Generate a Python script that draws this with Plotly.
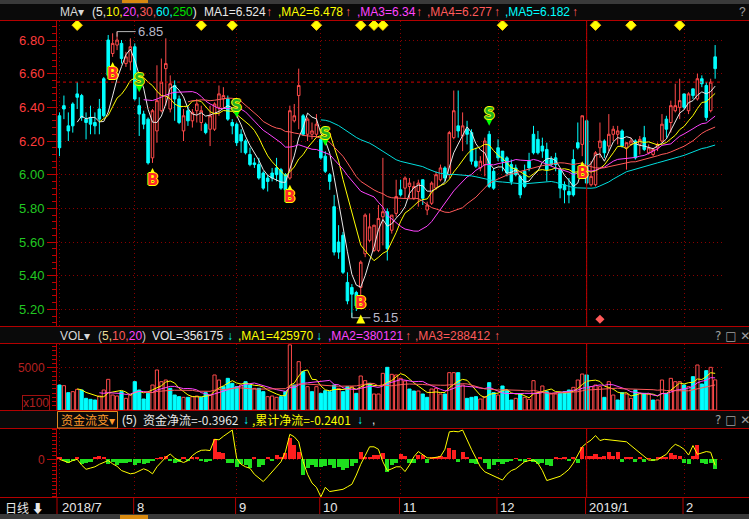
import numpy as np
import pandas as pd
import plotly.graph_objects as go

W, H = 749, 519
FONT = "Liberation Sans, Arial, Noto Sans CJK SC, sans-serif"
CJK = "Noto Sans CJK SC, Liberation Sans, sans-serif"

# ---------------- data ----------------
open_price = [
    6.35, 6.41, 6.29, 6.42, 6.48, 6.47, 6.33, 6.34, 6.31, 6.39,
    6.57, 6.80, 6.72, 6.77, 6.78, 6.66, 6.67, 6.76, 6.41, 6.36,
    6.33, 6.10, 6.26, 6.38, 6.63, 6.39, 6.53, 6.45, 6.26, 6.38,
    6.32, 6.38, 6.31, 6.30, 6.27, 6.27, 6.40, 6.45, 6.45, 6.31,
    6.30, 6.24, 6.20, 6.12, 6.07, 6.06, 6.01, 5.98, 6.01, 6.04,
    6.03, 6.00, 5.98, 6.32, 6.47, 6.35, 6.24, 6.24, 6.24, 6.21,
    6.11, 6.00, 5.81, 5.60, 5.64, 5.36, 5.33, 5.30, 5.33, 5.53,
    5.61, 5.55, 5.55, 5.75, 5.78, 5.67, 5.77, 5.91, 5.92, 5.93,
    5.86, 5.90, 5.97, 5.79, 5.83, 5.92, 5.97, 6.04, 6.00, 6.22,
    6.29, 6.23, 6.27, 6.25, 6.08, 6.04, 6.06, 6.24, 6.02, 6.16,
    6.14, 6.10, 6.06, 6.04, 5.99, 6.02, 6.08, 6.24, 6.21, 6.17,
    6.15, 6.09, 6.10, 6.03, 5.94, 5.90, 6.09, 6.19, 6.18, 6.32,
    5.94, 5.94, 6.16, 6.20, 6.17, 6.24, 6.24, 6.26, 6.16, 6.18,
    6.20, 6.18, 6.22, 6.13, 6.12, 6.16, 6.20, 6.33, 6.31, 6.38,
    6.40, 6.48, 6.38, 6.51, 6.45, 6.57, 6.53, 6.38, 6.70]
high_price = [
    6.37, 6.47, 6.37, 6.43, 6.55, 6.48, 6.37, 6.41, 6.37, 6.45,
    6.58, 6.83, 6.84, 6.85, 6.80, 6.73, 6.81, 6.78, 6.46, 6.38,
    6.34, 6.39, 6.65, 6.69, 6.81, 6.59, 6.56, 6.47, 6.39, 6.41,
    6.39, 6.45, 6.41, 6.31, 6.41, 6.43, 6.53, 6.52, 6.47, 6.33,
    6.31, 6.27, 6.21, 6.16, 6.10, 6.10, 6.02, 6.00, 6.04, 6.10,
    6.04, 6.01, 6.41, 6.42, 6.63, 6.36, 6.34, 6.31, 6.36, 6.22,
    6.14, 6.01, 5.88, 5.70, 5.66, 5.42, 5.35, 5.31, 5.49, 5.77,
    5.77, 5.70, 5.82, 6.10, 5.80, 5.76, 5.97, 5.97, 5.99, 5.98,
    5.96, 5.97, 5.97, 5.84, 5.96, 6.02, 6.06, 6.05, 6.26, 6.50,
    6.50, 6.37, 6.32, 6.27, 6.16, 6.11, 6.22, 6.26, 6.04, 6.21,
    6.14, 6.11, 6.09, 6.06, 6.00, 6.06, 6.13, 6.29, 6.26, 6.22,
    6.19, 6.11, 6.13, 6.04, 5.96, 5.98, 6.15, 6.31, 6.35, 6.33,
    6.08, 6.14, 6.31, 6.21, 6.36, 6.29, 6.29, 6.27, 6.19, 6.22,
    6.21, 6.23, 6.29, 6.18, 6.16, 6.19, 6.36, 6.35, 6.44, 6.54,
    6.57, 6.48, 6.49, 6.51, 6.60, 6.59, 6.55, 6.57, 6.77]
low_price = [
    6.11, 6.33, 6.20, 6.25, 6.39, 6.32, 6.21, 6.24, 6.24, 6.24,
    6.34, 6.58, 6.70, 6.74, 6.66, 6.64, 6.62, 6.44, 6.23, 6.27,
    6.06, 6.07, 6.19, 6.37, 6.41, 6.37, 6.32, 6.30, 6.20, 6.29,
    6.28, 6.31, 6.26, 6.24, 6.17, 6.26, 6.35, 6.39, 6.32, 6.24,
    6.17, 6.13, 6.12, 6.05, 6.04, 5.97, 5.91, 5.90, 5.96, 5.96,
    5.91, 5.90, 5.97, 6.31, 6.27, 6.23, 6.20, 6.21, 6.22, 6.09,
    6.01, 5.91, 5.52, 5.50, 5.41, 5.23, 5.15, 5.19, 5.20, 5.51,
    5.60, 5.54, 5.54, 5.58, 5.49, 5.65, 5.75, 5.87, 5.86, 5.86,
    5.85, 5.81, 5.82, 5.76, 5.82, 5.91, 5.96, 5.96, 5.98, 6.21,
    6.22, 6.14, 6.18, 6.06, 6.04, 6.02, 5.99, 5.92, 5.91, 6.08,
    6.02, 5.99, 5.94, 5.99, 5.86, 5.92, 6.02, 6.12, 6.12, 6.10,
    5.96, 6.05, 6.02, 5.86, 5.83, 5.83, 5.87, 6.15, 6.11, 5.94,
    5.93, 5.93, 6.10, 6.10, 6.14, 6.20, 6.18, 6.16, 6.03, 6.17,
    6.09, 6.12, 6.14, 6.12, 6.11, 6.14, 6.19, 6.22, 6.25, 6.37,
    6.33, 6.39, 6.36, 6.45, 6.44, 6.52, 6.32, 6.37, 6.57]
close_price = [
    6.16, 6.39, 6.26, 6.29, 6.46, 6.34, 6.31, 6.30, 6.29, 6.33,
    6.35, 6.59, 6.78, 6.80, 6.69, 6.70, 6.76, 6.45, 6.36, 6.30,
    6.07, 6.38, 6.44, 6.55, 6.66, 6.54, 6.45, 6.31, 6.35, 6.32,
    6.37, 6.42, 6.38, 6.25, 6.35, 6.42, 6.48, 6.47, 6.33, 6.29,
    6.19, 6.20, 6.13, 6.06, 6.06, 5.98, 5.92, 5.96, 5.98, 6.00,
    5.92, 5.91, 6.38, 6.35, 6.53, 6.24, 6.33, 6.26, 6.30, 6.10,
    6.02, 5.96, 5.54, 5.54, 5.42, 5.25, 5.29, 5.22, 5.48, 5.76,
    5.69, 5.70, 5.74, 5.78, 5.56, 5.76, 5.87, 5.88, 5.98, 5.95,
    5.93, 5.95, 5.86, 5.82, 5.95, 6.00, 6.04, 5.98, 6.25, 6.38,
    6.26, 6.29, 6.24, 6.08, 6.05, 6.08, 6.20, 5.93, 5.92, 6.10,
    6.08, 6.01, 5.96, 6.00, 5.88, 5.93, 6.04, 6.13, 6.13, 6.14,
    6.03, 6.06, 6.06, 5.92, 5.91, 5.88, 5.88, 6.16, 6.35, 5.95,
    5.99, 6.13, 6.20, 6.13, 6.24, 6.27, 6.26, 6.17, 6.19, 6.20,
    6.10, 6.21, 6.15, 6.16, 6.15, 6.18, 6.30, 6.27, 6.41, 6.41,
    6.44, 6.40, 6.48, 6.47, 6.57, 6.54, 6.34, 6.55, 6.63]
volume_x100 = [
    2955, 2876, 2049, 2167, 2443, 2364, 1379, 1260, 1182, 1655,
    2364, 3625, 1773, 1655, 2167, 1379, 1773, 3349, 2364, 1300,
    1970, 2955, 4728, 3349, 3546, 2561, 1773, 1576, 1497, 1497,
    1576, 1655, 1497, 2049, 1773, 4137, 3546, 2758, 3743, 3152,
    2758, 2955, 3349, 2955, 2561, 2561, 2167, 1576, 1655, 1497,
    1576, 2167, 7700, 2955, 5713, 4531, 2758, 2167, 2758, 1970,
    2285, 2167, 2955, 2561, 2167, 2758, 2758, 1970, 4019, 3467,
    3152, 1891, 1891, 4334, 5043, 4216, 4137, 3743, 3428, 2482,
    2246, 2246, 1891, 1497, 2482, 2561, 1891, 1891, 4413, 4413,
    4413, 2955, 1379, 1497, 1576, 1300, 1576, 3231, 2049, 1773,
    2837, 2285, 1182, 1379, 1891, 1497, 1260, 3467, 2049, 2837,
    2167, 1891, 1891, 1970, 2167, 2364, 2679, 3546, 4255, 4137,
    2758, 2955, 2758, 1497, 3349, 1773, 1182, 2049, 1891, 1379,
    2364, 1970, 1970, 1891, 1182, 1182, 3546, 1970, 3743, 3349,
    3349, 2955, 2758, 3940, 5319, 3073, 4649, 5043, 3562]
net_flow = [
    0.08, -0.07, -0.13, -0.05, 0.08, -0.19, -0.16, -0.09, 0.08, 0.13,
    0.11, -0.19, -0.09, -0.23, -0.13, -0.16, -0.09, -0.23, -0.13, -0.20,
    -0.13, -0.05, 0.04, 0.08, 0.13, -0.07, -0.16, -0.09, 0.08, -0.07,
    0.11, 0.11, -0.05, -0.09, -0.08, 0.80, 0.31, 0.24, -0.13, -0.16,
    -0.29, -0.19, -0.23, -0.36, 0.08, -0.29, -0.23, 0.08, -0.07, 0.17,
    0.11, 0.24, 0.84, 0.57, 0.31, -0.63, -0.36, -0.23, -0.29, -0.29,
    -0.27, -0.23, -0.36, -0.29, -0.43, -0.36, -0.27, -0.16, 0.31, 0.11,
    0.08, 0.17, 0.17, 0.27, -0.49, -0.23, -0.16, 0.21, 0.13, -0.16,
    -0.13, 0.17, 0.17, -0.16, 0.11, 0.11, 0.13, 0.08, 0.44, 0.37,
    -0.09, 0.31, 0.08, -0.13, -0.19, 0.08, -0.16, -0.40, -0.23, -0.09,
    -0.19, -0.09, -0.05, 0.04, -0.05, -0.09, 0.04, -0.09, -0.19, -0.16,
    -0.23, -0.27, 0.08, 0.04, 0.08, -0.07, 0.08, -0.13, 0.51, 0.13,
    0.13, 0.21, 0.08, 0.13, 0.31, 0.13, 0.31, -0.09, 0.08, 0.08,
    -0.09, 0.08, -0.09, 0.04, -0.05, 0.08, 0.08, 0.08, 0.24, 0.17,
    0.13, -0.16, -0.19, 0.13, 0.57, -0.16, -0.19, -0.13, -0.40]
cum_flow = [
    0.00, -0.06, -0.13, -0.05, 0.00, -0.23, -0.40, -0.35, -0.30, -0.20,
    -0.12, -0.05, -0.18, -0.28, -0.45, -0.52, -0.58, -0.55, -0.48, -0.38,
    -0.45, -0.58, -0.30, -0.10, 0.08, 0.21, 0.05, -0.05, -0.13, -0.05,
    0.15, 0.28, 0.36, 0.37, 0.35, 0.80, 0.78, 0.92, 1.05, 1.17,
    0.04, -0.20, -0.30, -0.36, -0.60, -0.75, -0.89, -0.70, -0.50, -0.29,
    -0.10, 0.30, 1.00, 0.90, 0.70, -0.09, -0.60, -0.95, -1.12, -1.50,
    -1.12, -1.29, -1.25, -1.22, -1.20, -1.10, -1.00, -0.63, -0.20, 0.15,
    0.50, 0.50, 0.40, -0.10, -0.45, -0.38, -0.30, -0.30, -0.49, -0.23,
    0.10, 0.31, 0.18, 0.06, 0.05, 0.08, 0.11, 0.40, 1.10, 1.12,
    1.10, 1.17, 0.75, 0.40, 0.05, -0.30, -0.50, -0.59, -0.68, -0.75,
    -0.83, -0.60, -0.45, -0.38, -0.22, -0.10, -0.05, -0.03, -0.16, -0.45,
    -0.85, -0.80, -0.72, -0.68, -0.55, -0.40, -0.15, 0.15, 0.50, 0.65,
    0.77, 0.95, 0.75, 0.80, 0.78, 0.77, 0.75, 0.73, 0.70, 0.55,
    0.40, 0.24, 0.10, -0.03, -0.03, -0.02, 0.10, 0.20, 0.44, 0.60,
    0.52, 0.40, 0.17, 0.55, 0.20, 0.25, 0.31, 0.28, -0.24]

month_labels = ["2018/7", "8", "9", "10", "11", "12", "2019/1", "2"]
month_start = [0, 17, 40, 59, 77, 99, 119, 141]
year_start = 119
diamond_bars = [4, 32, 39, 58, 68, 71, 73, 100, 121, 129, 140]
low_diamond_bars = [122]
buy_bars = [12, 21, 52, 68, 118]
sell_bars = [18, 40, 60, 97]
ma_periods = [5, 10, 20, 30, 60]
vol_ma_periods = [5, 10, 20]
price_ticks = [6.80, 6.60, 6.40, 6.20, 6.00, 5.80, 5.60, 5.40, 5.20]

# ---------------- helpers ----------------
n = len(close_price)
idx = list(range(n))
PX = lambda x: x / W
PY = lambda y: 1 - y / H

C_RED = "#ff4a4a"
C_CYAN = "#00ffff"
C_BORDER = "#b40000"
C_GRID = "#8a0000"
C_WHITE = "#e8e8e8"
C_YEL = "#ffff00"
C_MAG = "#ff44ff"
C_SAL = "#ff5a5a"
C_GRN = "#00e000"

XR = [-0.56, 149.55]
YR = [5.101, 6.913]
VR = [0, 7800]
FR = [-1.508, 1.212]

dom_x = [57 / W, 722 / W]
dom_p = [PY(326), PY(21)]
dom_v = [PY(410), PY(344)]
dom_f = [PY(497), PY(429)]

df = pd.DataFrame({"o": open_price, "h": high_price, "l": low_price, "c": close_price, "v": volume_x100})
# volume bars coloured by close versus previous close
vol_up = (df["c"] >= df["c"].shift(1).fillna(df["o"])).tolist()

fig = go.Figure()

# MA lines (price)
ma_colors = [C_WHITE, C_YEL, C_MAG, C_SAL, "#00dede"]
for p, col in zip(ma_periods, ma_colors):
    fig.add_trace(go.Scatter(x=idx, y=df["c"].rolling(p, min_periods=p).mean(), mode="lines",
                             line=dict(color=col, width=1), xaxis="x", yaxis="y", hoverinfo="skip"))

# candles
fig.add_trace(go.Candlestick(
    x=idx, open=open_price, high=high_price, low=low_price, close=close_price,
    increasing=dict(line=dict(color=C_RED, width=1), fillcolor="#000000"),
    decreasing=dict(line=dict(color=C_CYAN, width=1), fillcolor=C_CYAN),
    whiskerwidth=0, xaxis="x", yaxis="y", hoverinfo="skip"))

# previous close dashed line
prev_close = close_price[-2]
fig.add_trace(go.Scatter(x=[XR[0], XR[1]], y=[prev_close, prev_close], mode="lines",
                         line=dict(color="#d00000", width=1, dash="3px,3px"),
                         xaxis="x", yaxis="y", hoverinfo="skip"))

# high / low labels
hi_i = int(np.argmax(high_price)); hi = high_price[hi_i]
lo_i = int(np.argmin(low_price)); lo = low_price[lo_i]
fig.add_trace(go.Scatter(x=[hi_i, hi_i, hi_i + 4.2], y=[hi - 0.03, hi, hi], mode="lines",
                         line=dict(color="#b4b4b4", width=1), xaxis="x", yaxis="y", hoverinfo="skip"))
fig.add_trace(go.Scatter(x=[lo_i, lo_i, lo_i + 4.2], y=[lo + 0.03, lo, lo], mode="lines",
                         line=dict(color="#b4b4b4", width=1), xaxis="x", yaxis="y", hoverinfo="skip"))

# top diamonds
fig.add_trace(go.Scatter(x=diamond_bars, y=[YR[1] - 0.025] * len(diamond_bars), mode="markers",
                         marker=dict(symbol="diamond", size=8, color="#ffff00", line=dict(color="#ffc800", width=1)),
                         xaxis="x", yaxis="y", hoverinfo="skip"))
fig.add_trace(go.Scatter(x=low_diamond_bars, y=[YR[0] + 0.04] * len(low_diamond_bars), mode="markers",
                         marker=dict(symbol="diamond", size=7, color="#ff5a5a"),
                         xaxis="x", yaxis="y", hoverinfo="skip"))

annotations = []
shadow_y = "1px 0 0 #ffff00, -1px 0 0 #ffff00, 0 1px 0 #ffff00, 0 -1px 0 #ffff00"

# buy signals
bx, by = [], []
for b in buy_bars:
    ay = low_price[b] - 0.03
    ty = ay - 0.07
    if ty < YR[0] + 0.035:
        ay = max(ay, YR[0] + 0.06)
        ty = ay + 0.065
    bx.append(b); by.append(ay)
    annotations.append(dict(x=b, y=ty, xref="x", yref="y", text="<b>B</b>", showarrow=False,
                            font=dict(family="DejaVu Sans", size=15, color="#ff2a2a", shadow=shadow_y)))
fig.add_trace(go.Scatter(x=bx, y=by, mode="markers", marker=dict(symbol="arrow-up", size=9, color="#ffff00"),
                         xaxis="x", yaxis="y", hoverinfo="skip"))
# sell signals
sx, sy = [], []
for s in sell_bars:
    ay = high_price[s] + 0.03
    sx.append(s); sy.append(ay)
    annotations.append(dict(x=s, y=ay + 0.07, xref="x", yref="y", text="<b>S</b>", showarrow=False,
                            font=dict(family="DejaVu Sans", size=15, color="#22b022", shadow=shadow_y)))
fig.add_trace(go.Scatter(x=sx, y=sy, mode="markers", marker=dict(symbol="arrow-down", size=9, color="#00ff00"),
                         xaxis="x", yaxis="y", hoverinfo="skip"))

annotations.append(dict(x=hi_i + 4.3, y=hi, xref="x", yref="y", text=f"{hi:.2f}", showarrow=False,
                        xanchor="left", yanchor="middle", font=dict(family=FONT, size=13, color="#b8b8c8")))
annotations.append(dict(x=lo_i + 4.3, y=lo, xref="x", yref="y", text=f"{lo:.2f}", showarrow=False,
                        xanchor="left", yanchor="middle", font=dict(family=FONT, size=13, color="#b8b8c8")))

# volume
vcol = [("#000000" if u else C_CYAN) for u in vol_up]
vline = [(C_RED if u else C_CYAN) for u in vol_up]
fig.add_trace(go.Bar(x=idx, y=volume_x100, width=0.72, marker=dict(color=vcol, line=dict(color=vline, width=1)),
                     xaxis="x2", yaxis="y2", hoverinfo="skip"))
for p, col in zip(vol_ma_periods, [C_YEL, C_MAG, C_SAL]):
    fig.add_trace(go.Scatter(x=idx, y=df["v"].rolling(p, min_periods=p).mean(), mode="lines",
                             line=dict(color=col, width=1), xaxis="x2", yaxis="y2", hoverinfo="skip"))

# money flow
fcol = [("#ff1e1e" if v >= 0 else "#1ee01e") for v in net_flow]
fig.add_trace(go.Bar(x=idx, y=net_flow, width=0.92, marker=dict(color=fcol, line=dict(width=0)),
                     xaxis="x3", yaxis="y3", hoverinfo="skip"))
fig.add_trace(go.Scatter(x=idx, y=cum_flow, mode="lines", line=dict(color="#ffff00", width=1),
                         xaxis="x3", yaxis="y3", hoverinfo="skip"))

# ---------------- frame ----------------
shapes = []
def rect(x0, y0, x1, y1, color, layer="below"):
    shapes.append(dict(type="rect", xref="paper", yref="paper", x0=PX(x0), x1=PX(x1), y0=PY(y1), y1=PY(y0),
                       fillcolor=color, line=dict(width=0), layer=layer))
def hline(y, color=C_BORDER, x0=0, x1=W):
    shapes.append(dict(type="line", xref="paper", yref="paper", x0=PX(x0), x1=PX(x1), y0=PY(y), y1=PY(y),
                       line=dict(color=color, width=1)))

rect(0, 4, W, 20.5, "#0a0a0a")
rect(0, 327, W, 343.5, "#0a0a0a")
rect(0, 411, W, 428.5, "#0a0a0a")
rect(0, 0, W, 4, "#3a3a3a", "above")
rect(122, 0, 148, 3, "#d88a10", "above")
rect(0, 514, W, H, "#3a3a3a", "above")
rect(120, 515, 148, H, "#d88a10", "above")
for y in [20.5, 326.5, 343.5, 410.5, 428.5, 497.5]:
    hline(y)

# year separator (solid) through all panels
for d in [dom_p, dom_v, dom_f]:
    shapes.append(dict(type="line", xref="x", yref="paper", x0=year_start, x1=year_start, y0=d[0], y1=d[1],
                       line=dict(color="#c00000", width=1)))
# axis row separators + labels
shapes.append(dict(type="line", xref="paper", yref="paper", x0=PX(57), x1=PX(57), y0=PY(514), y1=PY(497.5),
                   line=dict(color=C_BORDER, width=1)))
for m, lab in zip(month_start, month_labels):
    if m > 0:
        shapes.append(dict(type="line", xref="x", yref="paper", x0=m - 0.25, x1=m - 0.25, y0=PY(514), y1=PY(497.5),
                           line=dict(color=C_BORDER, width=1)))
    annotations.append(dict(x=m + 0.05, y=PY(507), xref="x", yref="paper", text=lab, showarrow=False,
                            xanchor="left", yanchor="middle", font=dict(family=FONT, size=13, color=C_WHITE)))
annotations.append(dict(x=PX(3), y=PY(507), xref="paper", yref="paper", text="日线 <b>⬇</b>", showarrow=False,
                        xanchor="left", yanchor="middle", font=dict(family=CJK, size=12, color=C_WHITE)))

# header texts
def seg(x, y, s, color, size=12, fam=FONT):
    annotations.append(dict(x=PX(x - 2), y=PY(y), xref="paper", yref="paper", text=s, showarrow=False,
                            xanchor="left", yanchor="middle", font=dict(family=fam, size=size, color=color)))
def sp(s, c):
    return f"<span style='color:{c}'>{s}</span>"

y1 = 12.5
seg(60, y1, "MA▾", "#d8d8d8")
seg(92, y1, "(5," + sp("10,", C_YEL) + sp("20,", C_MAG) + sp("30,", C_SAL) + sp("60,", C_CYAN) + sp("250", C_GRN) + ")", C_WHITE)
seg(204, y1, "MA1=6.524", C_WHITE); seg(266, y1, "↑", C_SAL)
seg(278, y1, ",MA2=6.478", C_YEL); seg(345, y1, "↑", C_SAL)
seg(357, y1, ",MA3=6.34", C_MAG); seg(416, y1, "↑", C_SAL)
seg(427, y1, ",MA4=6.277", C_SAL); seg(494, y1, "↑", C_SAL)
seg(505, y1, ",MA5=6.182", C_CYAN); seg(572, y1, "↑", C_SAL)
seg(739, y1, "?", "#a0a0a0")

y2 = 335.5
seg(60, y2, "VOL▾", "#d8d8d8")
seg(98, y2, "(" + sp("5,", "#e8dc96") + sp("10,", C_SAL) + sp("20", C_MAG) + ")", "#c8c8c8")
seg(152, y2, "VOL=356175", C_WHITE); seg(227, y2, "↓", C_CYAN)
seg(238, y2, ",MA1=425970", C_YEL); seg(316, y2, "↓", C_CYAN)
seg(328, y2, ",MA2=380121", C_MAG); seg(405, y2, "↑", C_SAL)
seg(415, y2, ",MA3=288412", C_SAL); seg(494, y2, "↑", C_SAL)
seg(715, y2, "? □ ✕", "#a0a0a0", 12, "DejaVu Sans")

y3 = 419.5
shapes.append(dict(type="rect", xref="paper", yref="paper", x0=PX(57.5), x1=PX(117.5), y0=PY(428), y1=PY(411.5),
                   line=dict(color="#e08a20", width=1), fillcolor="rgba(0,0,0,0)"))
seg(61, y3, "资金流变▾", "#ff9a2a", 12, CJK)
seg(122, y3, "(5)", C_WHITE)
seg(143, y3, "资金净流=-0.3962", C_WHITE, 12, CJK); seg(243, y3, "↓", C_CYAN)
seg(252, y3, ",累计净流=-0.2401", C_YEL, 12, CJK); seg(357, y3, "↓", C_CYAN)
seg(372, y3, ",", C_WHITE)
seg(715, y3, "? □ ✕", "#a0a0a0", 12, "DejaVu Sans")

# left axis unit box
annotations.append(dict(x=PX(35.5), y=PY(403), xref="paper", yref="paper", text="x100", showarrow=False,
                        xanchor="center", yanchor="middle", bordercolor="#a01010", borderwidth=1, borderpad=0,
                        font=dict(family=FONT, size=12, color="#b02020")))

# ---------------- axes ----------------
def xax(anchor):
    return dict(domain=dom_x, range=XR, anchor=anchor, showticklabels=False, ticks="",
                tickvals=month_start, showgrid=True, gridcolor=C_GRID, griddash="1px,3px", gridwidth=1,
                zeroline=False, showline=False, fixedrange=True, rangeslider=dict(visible=False))

tick_txt = [sp(f"{t:.2f}", "#ff3c3c" if t >= 6.2 else "#22c822") for t in price_ticks]

layout = dict(
    width=W, height=H, margin=dict(l=0, r=0, t=0, b=0),
    paper_bgcolor="#000000", plot_bgcolor="#000000", showlegend=False,
    boxgap=0.18, barmode="overlay", bargap=0,
    xaxis=xax("y"), xaxis2={**xax("y2"), "matches": "x"}, xaxis3={**xax("y3"), "matches": "x"},
    yaxis=dict(domain=dom_p, range=YR, anchor="x", tickvals=price_ticks, ticktext=tick_txt,
               tickfont=dict(family=FONT, size=13, color="#ff3c3c"), ticks="outside", ticklen=9,
               tickcolor="#c00000", showline=True, linecolor=C_BORDER, showgrid=True, gridcolor=C_GRID,
               griddash="1px,3px", zeroline=False, fixedrange=True,
               minor=dict(dtick=0.04, ticklen=4, tickcolor="#c00000", ticks="outside", showgrid=False)),
    yaxis2=dict(domain=dom_v, range=VR, anchor="x2", tickvals=[5000], ticktext=["5000"],
                tickfont=dict(family=FONT, size=12, color="#b42020"), ticks="outside", ticklen=9,
                tickcolor="#c00000", showline=True, linecolor=C_BORDER, showgrid=True, gridcolor=C_GRID,
                griddash="1px,3px", zeroline=False, fixedrange=True,
                minor=dict(dtick=500, ticklen=4, tickcolor="#c00000", ticks="outside", showgrid=False)),
    yaxis3=dict(domain=dom_f, range=FR, anchor="x3", tickvals=[0], ticktext=["0"],
                tickfont=dict(family=FONT, size=12, color="#b42020"), ticks="outside", ticklen=9,
                tickcolor="#c00000", showline=True, linecolor=C_BORDER, showgrid=True, gridcolor=C_GRID,
                griddash="1px,3px", zeroline=False, fixedrange=True,
                minor=dict(dtick=0.15, ticklen=4, tickcolor="#c00000", ticks="outside", showgrid=False)),
    shapes=shapes, annotations=annotations,
)
fig.update_layout(**layout)
fig.write_html("out.html", config={"displayModeBar": False, "staticPlot": True},
               post_script="document.body.style.margin='0';document.body.style.padding='0';"
                           "document.body.style.background='#000';document.body.style.overflow='hidden';")
